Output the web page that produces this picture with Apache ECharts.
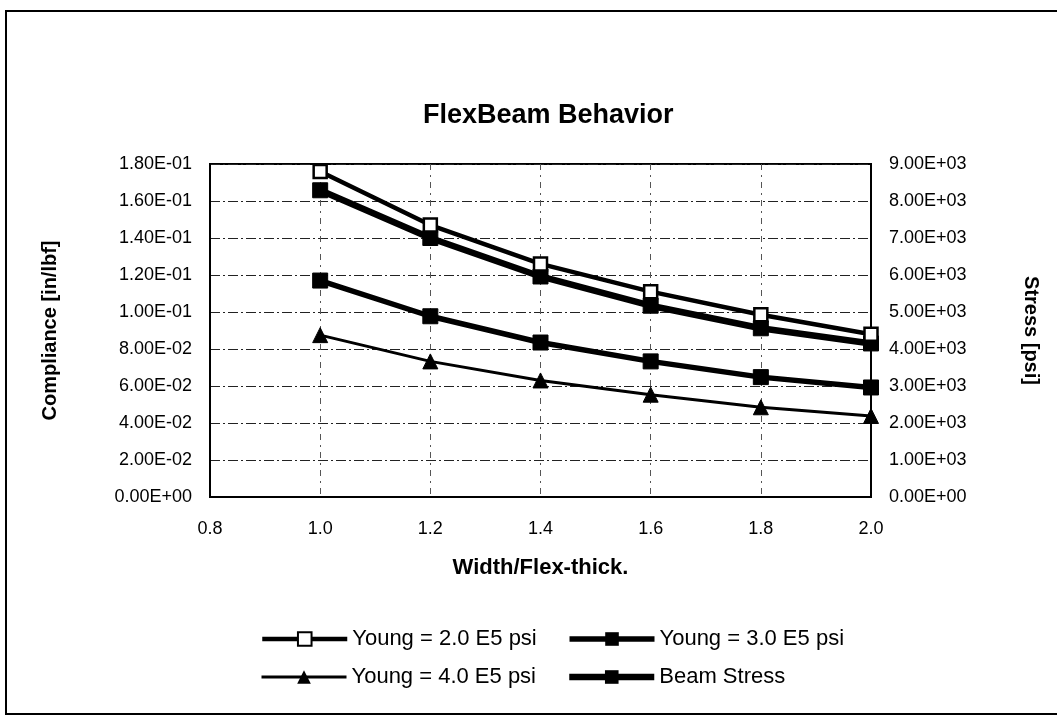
<!DOCTYPE html>
<html>
<head>
<meta charset="utf-8">
<title>FlexBeam Behavior</title>
<script src="https://cdn.jsdelivr.net/npm/echarts@6/dist/echarts.min.js"></script>
<style>
  html, body { margin: 0; padding: 0; background: #fff; }
  #chart { width: 1057px; height: 726px; }
</style>
</head>
<body>
<div id="chart"></div>
<script>
  // values
  const xValues = [1.0, 1.2, 1.4, 1.6, 1.8, 2.0];
  const young20 = [0.176, 0.147, 0.126, 0.111, 0.0985, 0.088];
  const young30 = [0.117, 0.0977, 0.0835, 0.0733, 0.0648, 0.0592];
  const young40 = [0.0875, 0.0733, 0.063, 0.0553, 0.0485, 0.0438];
  const beamStress = [8290, 7000, 5960, 5170, 4560, 4150];

  const seriesNames = ['Young = 2.0 E5 psi', 'Young = 3.0 E5 psi', 'Young = 4.0 E5 psi', 'Beam Stress'];

  const FONT = "'Liberation Sans', Arial, sans-serif";

  const zip = ys => xValues.map((x, i) => [x, ys[i]]);

  // Excel style scientific labels, 1.80E-01
  const sci = v => {
    if (Math.abs(v) < 1e-12) return '0.00E+00';
    let [m, e] = v.toExponential(2).split('e');
    let n = parseInt(e, 10);
    let sign = n < 0 ? '-' : '+';
    n = Math.abs(n);
    return m + 'E' + sign + (n < 10 ? '0' + n : n);
  };

  const gridLine = {
    show: true,
    lineStyle: { color: '#222', width: 1, type: [10, 3, 2, 3] }
  };

  // legend icon line widths, same as the plotted lines
  const lineWidths = [4.5, 5.5, 3, 6.5];
  const legendItems = seriesNames.map((n, i) => ({ name: n, lineStyle: { width: lineWidths[i] } }));

  const legendBase = {
    left: 260,
    padding: 0,
    itemWidth: 85,
    itemHeight: 17,
    itemGap: 30,
    textStyle: { fontFamily: FONT, fontSize: 22, color: '#000' }
  };

  const chart = echarts.init(document.getElementById('chart'));
  const option = {
    animation: false,
    backgroundColor: '#fff',
    textStyle: { fontFamily: FONT, color: '#000' },
    title: {
      text: 'FlexBeam Behavior',
      left: 418,
      top: 97,
      textStyle: { fontFamily: FONT, fontSize: 27, fontWeight: 'bold', color: '#000' }
    },
    graphic: [{
      type: 'polyline',
      shape: { points: [[1060, 11], [6, 11], [6, 714], [1060, 714]] },
      style: { stroke: '#000', lineWidth: 2, fill: null },
      silent: true
    }],
    legend: [
      Object.assign({}, legendBase, { data: legendItems.slice(0, 2), top: 628 }),
      Object.assign({}, legendBase, { data: legendItems.slice(2), top: 666 })
    ],
    grid: {
      left: 210,
      right: 186,
      top: 164,
      bottom: 229,
      show: true,
      borderColor: '#000',
      borderWidth: 2
    },
    xAxis: {
      type: 'value',
      min: 0.8,
      max: 2.0,
      interval: 0.2,
      name: 'Width/Flex-thick.',
      nameLocation: 'middle',
      nameGap: 60,
      nameTextStyle: { fontFamily: FONT, fontSize: 22, fontWeight: 'bold', color: '#000' },
      axisLine: { show: true, lineStyle: { color: '#000', width: 2 } },
      axisTick: { show: false },
      axisLabel: {
        margin: 23,
        fontSize: 18,
        color: '#000',
        formatter: v => v.toFixed(1)
      },
      splitLine: { show: true, lineStyle: { color: '#555', width: 1, type: [6, 5, 2, 5] } }
    },
    yAxis: [{
      type: 'value',
      min: 0,
      max: 0.18,
      interval: 0.02,
      name: 'Compliance [in/lbf]',
      nameLocation: 'middle',
      nameRotate: 90,
      nameGap: 150,
      nameTextStyle: { fontFamily: FONT, fontSize: 20, fontWeight: 'bold', color: '#000' },
      axisLine: { show: true, lineStyle: { color: '#000', width: 2 } },
      axisTick: { show: false },
      axisLabel: { margin: 18, fontSize: 18, color: '#000', formatter: sci },
      splitLine: gridLine
    }, {
      type: 'value',
      min: 0,
      max: 9000,
      interval: 1000,
      position: 'right',
      name: 'Stress [psi]',
      nameLocation: 'middle',
      nameRotate: -90,
      nameGap: 150,
      nameTextStyle: { fontFamily: FONT, fontSize: 20, fontWeight: 'bold', color: '#000' },
      axisLine: { show: true, lineStyle: { color: '#000', width: 2 } },
      axisTick: { show: false },
      axisLabel: { margin: 18, fontSize: 18, color: '#000', formatter: sci },
      splitLine: { show: false }
    }],
    series: [{
      name: seriesNames[0],
      type: 'line',
      yAxisIndex: 0,
      data: zip(young20),
      symbol: 'rect',
      symbolSize: 13,
      lineStyle: { color: '#000', width: lineWidths[0] },
      itemStyle: { color: '#fff', borderColor: '#000', borderWidth: 2.5 },
      z: 4
    }, {
      name: seriesNames[1],
      type: 'line',
      yAxisIndex: 0,
      data: zip(young30),
      symbol: 'rect',
      symbolSize: 15,
      lineStyle: { color: '#000', width: lineWidths[1] },
      itemStyle: { color: '#000', borderColor: '#000' },
      z: 3
    }, {
      name: seriesNames[2],
      type: 'line',
      yAxisIndex: 0,
      data: zip(young40),
      symbol: 'triangle',
      symbolSize: 15,
      lineStyle: { color: '#000', width: lineWidths[2] },
      itemStyle: { color: '#000', borderColor: '#000' },
      z: 3
    }, {
      name: seriesNames[3],
      type: 'line',
      yAxisIndex: 1,
      data: zip(beamStress),
      symbol: 'rect',
      symbolSize: 15,
      lineStyle: { color: '#000', width: lineWidths[3] },
      itemStyle: { color: '#000', borderColor: '#000' },
      z: 3
    }]
  };
  chart.setOption(option);
</script>
</body>
</html>
